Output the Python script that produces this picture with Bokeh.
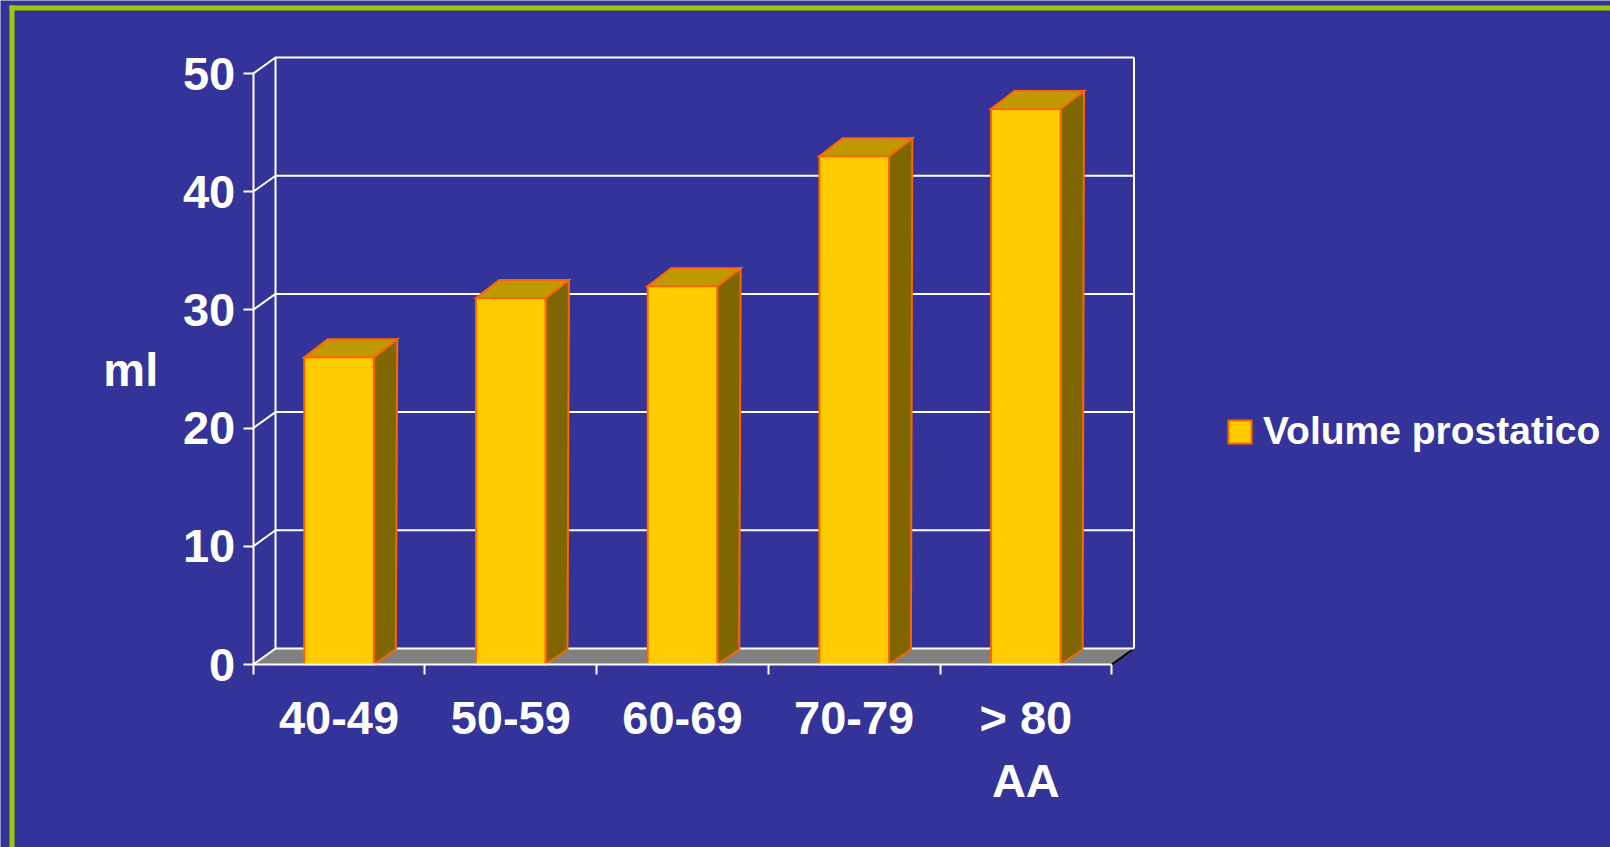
from bokeh.plotting import figure
from bokeh.models import Range1d, LinearAxis, FixedTicker, Legend, LegendItem, ColumnDataSource
from bokeh.embed import file_html
from bokeh.resources import INLINE

# ---------------- data ----------------
categories = ["40-49", "50-59", "60-69", "70-79", "> 80\nAA"]
values = [26, 31, 32, 43, 47]
y_ticks = [0, 10, 20, 30, 40, 50]
series_name = "Volume prostatico"
y_axis_title = "ml"

# ---------------- geometry / style ----------------
W, H = 1610, 847
ORIGIN_X, ORIGIN_Y = 252.7, 664.0      # pixel of data point (0, 0)
PX_PER_X, PX_PER_Y = 171.7, 11.82

BG = "#333399"
GREEN = "#99CC00"
FRONT, TOP, SIDE, EDGE = "#FFCC00", "#C09900", "#806600", "#FF6600"
FLOOR = "#808080"
FONT = "Liberation Sans"

x_start = -ORIGIN_X / PX_PER_X
x_end = (W - ORIGIN_X) / PX_PER_X
y_start = -(H - ORIGIN_Y) / PX_PER_Y
y_end = ORIGIN_Y / PX_PER_Y


def px_x(px):
    return (px - ORIGIN_X) / PX_PER_X


def px_y(py):
    return (ORIGIN_Y - py) / PX_PER_Y


# depth offsets (data units)
WALL_DX, WALL_DY = 22.3 / PX_PER_X, 16.0 / PX_PER_Y
BAR_TDX, BAR_TDY = 23.4 / PX_PER_X, 18.0 / PX_PER_Y
BAR_BDX, BAR_BDY = 22.0 / PX_PER_X, 15.0 / PX_PER_Y
BAR_W = 0.405

n = len(values)
ymax = y_ticks[-1]

p = figure(width=W, height=H, output_backend="svg", toolbar_location=None,
           x_range=Range1d(x_start, x_end), y_range=Range1d(y_start, y_end),
           x_axis_type=None, y_axis_type=None, min_border=0)
p.background_fill_color = BG
p.border_fill_color = BG
p.outline_line_color = None
p.xgrid.visible = False
p.ygrid.visible = False

# slide border (decoration)
p.quad(left=px_x(9), right=px_x(14), bottom=px_y(H + 10), top=px_y(5), fill_color=GREEN, line_color=None)
p.quad(left=px_x(9), right=px_x(W + 10), bottom=px_y(10), top=px_y(5), fill_color=GREEN, line_color=None)

# floor
p.patch([0, n, n + WALL_DX, WALL_DX], [0, 0, WALL_DY, WALL_DY], fill_color=FLOOR, line_color=None)
p.line([n, n + WALL_DX], [0, WALL_DY], line_color="black", line_width=2)

# grid: back wall lines + left wall diagonals
gx, gy = [], []
for v in y_ticks:
    gx.append([0, WALL_DX, n + WALL_DX])
    gy.append([v, v + WALL_DY, v + WALL_DY])
gx.append([WALL_DX, WALL_DX]); gy.append([WALL_DY, ymax + WALL_DY])
gx.append([n + WALL_DX, n + WALL_DX]); gy.append([WALL_DY, ymax + WALL_DY])
p.multi_line(gx, gy, line_color="white", line_width=2)

# bars
centers = [i + 0.5 for i in range(n)]
lefts = [c - BAR_W / 2 for c in centers]
rights = [c + BAR_W / 2 for c in centers]
side_xs = [[r, r + BAR_BDX, r + BAR_TDX, r] for r in rights]
side_ys = [[0, BAR_BDY, v + BAR_TDY, v] for v in values]
top_xs = [[l, r, r + BAR_TDX, l + BAR_TDX] for l, r in zip(lefts, rights)]
top_ys = [[v, v, v + BAR_TDY, v + BAR_TDY] for v in values]
p.patches(side_xs, side_ys, fill_color=SIDE, line_color=EDGE, line_width=2, line_join="miter")
p.patches(top_xs, top_ys, fill_color=TOP, line_color=EDGE, line_width=2, line_join="miter")
src = ColumnDataSource(dict(left=lefts, right=rights, top=values, bottom=[0] * n))
front = p.quad(left="left", right="right", top="top", bottom="bottom", source=src,
               fill_color=FRONT, line_color=EDGE, line_width=2, line_join="miter")

# axes
yaxis = LinearAxis(fixed_location=0, bounds=(0, ymax), ticker=FixedTicker(ticks=y_ticks),
                   axis_label=y_axis_title, axis_label_orientation="horizontal")
yaxis.axis_line_color = "white"
yaxis.axis_line_width = 2
yaxis.major_tick_line_color = "white"
yaxis.major_tick_line_width = 2
yaxis.major_tick_in = 0
yaxis.major_tick_out = 10
yaxis.major_label_standoff = 8
yaxis.major_label_text_font = FONT
yaxis.major_label_text_font_style = "bold"
yaxis.major_label_text_font_size = "47px"
yaxis.major_label_text_color = "white"
yaxis.axis_label_text_font = FONT
yaxis.axis_label_text_font_style = "bold"
yaxis.axis_label_text_font_size = "47px"
yaxis.axis_label_text_color = "white"
yaxis.axis_label_standoff = 22
p.add_layout(yaxis, "left")

xaxis = LinearAxis(fixed_location=0, bounds=(0, n),
                   ticker=FixedTicker(ticks=centers, minor_ticks=list(range(n + 1))))
xaxis.major_label_overrides = {c: lab for c, lab in zip(centers, categories)}
xaxis.axis_line_color = "white"
xaxis.axis_line_width = 2
xaxis.major_tick_line_color = None
xaxis.major_tick_in = 0
xaxis.major_tick_out = 10
xaxis.minor_tick_line_color = "white"
xaxis.minor_tick_line_width = 2
xaxis.minor_tick_in = 0
xaxis.minor_tick_out = 10
xaxis.major_label_standoff = 16
xaxis.major_label_text_font = FONT
xaxis.major_label_text_font_style = "bold"
xaxis.major_label_text_font_size = "47px"
xaxis.major_label_text_color = "white"
p.add_layout(xaxis, "below")

legend = Legend(items=[LegendItem(label=series_name, renderers=[front])], location=(1225, 394))
legend.label_text_font = FONT
legend.label_text_font_style = "bold"
legend.label_text_font_size = "39px"
legend.label_text_color = "white"
legend.glyph_width = 29
legend.glyph_height = 29
legend.label_height = 29
legend.label_standoff = 9
legend.padding = 0
legend.margin = 0
legend.spacing = 0
legend.border_line_color = None
legend.background_fill_alpha = 0
p.add_layout(legend)

open("out.html", "w").write(file_html(p, INLINE))
